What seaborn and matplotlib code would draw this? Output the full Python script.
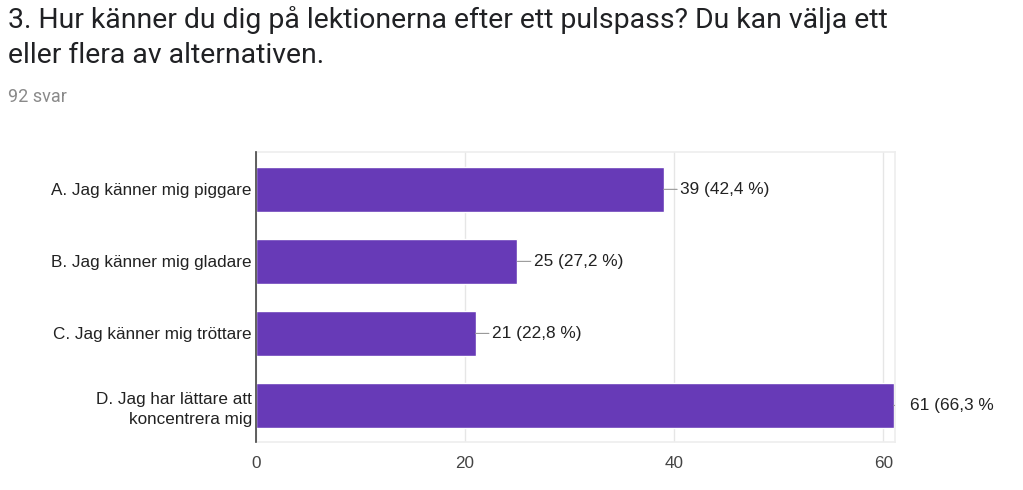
import matplotlib
matplotlib.use("Agg")
import matplotlib.pyplot as plt
import seaborn as sns
import pandas as pd

# data
categories = ["A. Jag känner mig piggare",
              "B. Jag känner mig gladare",
              "C. Jag känner mig tröttare",
              "D. Jag har lättare att\nkoncentrera mig"]
counts = [39, 25, 21, 61]
value_labels = ["39 (42,4 %)", "25 (27,2 %)", "21 (22,8 %)", "61 (66,3 %"]
xticks = [0, 20, 40, 60]

title_lines = ["3. Hur känner du dig på lektionerna efter ett pulspass? Du kan välja ett",
               "eller flera av alternativen."]
subtitle = "92 svar"

df = pd.DataFrame({"alternativ": categories, "antal": counts})

sns.set_theme(style="white")
plt.rcParams['font.family'] = ['Liberation Sans', 'DejaVu Sans']

fig = plt.figure(figsize=(10.23, 4.9), dpi=100)
ax = fig.add_axes([0.2502, 0.098, 0.6245, 0.592])

sns.barplot(data=df, x="antal", y="alternativ", color="#673AB7",
            saturation=1, width=0.62, ax=ax)

ax.set_xlim(0, 61.1)
ax.set_ylim(3.507, -0.52)
ax.set_xticks(xticks)
ax.set_xlabel("")
ax.set_ylabel("")
ax.tick_params(axis="both", length=0, labelsize=12.3, colors="#222222")
ax.tick_params(axis="x", pad=10, colors="#444444")
ax.tick_params(axis="y", pad=3)
for lbl in ax.get_yticklabels():
    lbl.set_linespacing(1.45)
ax.grid(axis="x", color="#e6e6e6", linewidth=1)
ax.set_axisbelow(True)

for side in ["top", "right", "bottom"]:
    ax.spines[side].set_color("#eeeeee")
ax.spines["left"].set_color("#444444")
ax.spines["left"].set_linewidth(1.2)
ax.spines["left"].set_zorder(5)

# value labels with short leader lines (clipped to the plot area)
for i, (v, lab) in enumerate(zip(counts, value_labels)):
    ann = ax.annotate(lab, xy=(v, i), xytext=(12, 0), textcoords="offset points",
                      ha="left", va="center", fontsize=12.4, color="#222222",
                      annotation_clip=False,
                      arrowprops=dict(arrowstyle="-", color="#999999", lw=0.8,
                                      shrinkA=0, shrinkB=0))
    ann.arrow_patch.set_clip_on(True)
    ann.arrow_patch.set_clip_box(ax.bbox)

for k, line in enumerate(title_lines):
    fig.text(0.008, 1 - (28 + 35 * k) / 490, line, ha="left", va="baseline",
             fontsize=20.4, family=["Roboto", "DejaVu Sans"], color="#202124")
fig.text(0.008, 1 - 102 / 490, subtitle, ha="left", va="baseline", fontsize=13,
         family=["Roboto", "DejaVu Sans"], color="#8a8a8a")

fig.savefig("out.png", dpi=100)
